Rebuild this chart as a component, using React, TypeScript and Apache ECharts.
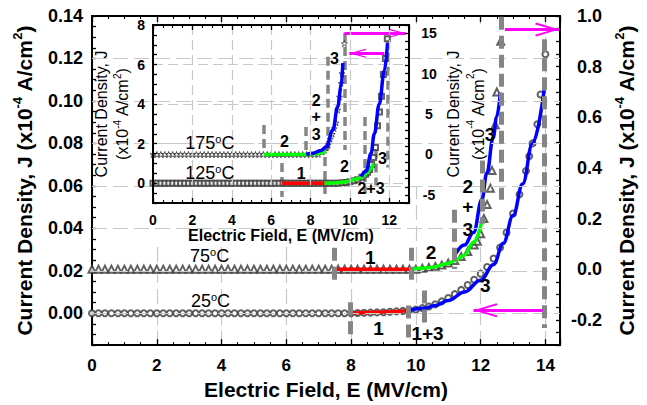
import React, { useEffect, useRef } from 'react';
import * as echarts from 'echarts';

const FONT = '"Liberation Sans", Arial, Helvetica, sans-serif';

// ---------------- Main plot data (E in MV/cm) ----------------
// 25 °C measured points (left axis, x10^-4 A/cm^2)
const meas25: number[][] = [
  [0, 0], [0.2, 0], [0.4, 0], [0.6, 0], [0.8, 0], [1, 0], [1.2, 0], [1.4, 0], [1.6, 0], [1.8, 0],
  [2, 0], [2.2, 0], [2.4, 0], [2.6, 0], [2.8, 0], [3, 0], [3.2, 0], [3.4, 0], [3.6, 0], [3.8, 0],
  [4, 0], [4.2, 0], [4.4, 0], [4.6, 0], [4.8, 0], [5, 0], [5.2, 0], [5.4, 0], [5.6, 0], [5.8, 0],
  [6, 0], [6.2, 0], [6.4, 0], [6.6, 0], [6.8, 0], [7, 0], [7.2, 0], [7.4, 0], [7.6, 0], [7.8, 0],
  [8, 0], [8.2, 0.0001], [8.4, 0.0002], [8.6, 0.0003], [8.8, 0.0004], [9, 0.0005], [9.2, 0.0007],
  [9.4, 0.0009], [9.6, 0.0011], [9.8, 0.0014], [10, 0.0018], [10.2, 0.0024], [10.4, 0.0032],
  [10.6, 0.0042], [10.8, 0.0056], [11, 0.0072], [11.2, 0.009], [11.4, 0.011], [11.6, 0.0133],
  [11.8, 0.0158], [12, 0.0186], [12.2, 0.0218], [12.4, 0.0258], [12.6, 0.031], [12.8, 0.038],
  [13, 0.047], [13.2, 0.056], [13.4, 0.067], [13.5, 0.074], [13.6, 0.08], [13.75, 0.089],
  [13.85, 0.103], [14, 0.122],
];
const fit25Red: number[][] = [[7.96, 0], [8.5, 0.0003], [9, 0.0006], [9.76, 0.0013]];
const fit25Blue: number[][] = [
  [9.76, 0.0013], [10.26, 0.0024], [10.6, 0.0037], [11, 0.006], [11.5, 0.01], [12, 0.0155],
  [12.4, 0.023], [12.7, 0.033], [13, 0.046], [13.3, 0.061], [13.6, 0.08], [13.96, 0.105],
];

// 75 °C measured points (right axis)
const meas75: number[][] = [
  [0, 0], [0.2, 0], [0.4, 0], [0.6, 0], [0.8, 0], [1, 0], [1.2, 0], [1.4, 0], [1.6, 0], [1.8, 0],
  [2, 0], [2.2, 0], [2.4, 0], [2.6, 0], [2.8, 0], [3, 0], [3.2, 0], [3.4, 0], [3.6, 0], [3.8, 0],
  [4, 0], [4.2, 0], [4.4, 0], [4.6, 0], [4.8, 0], [5, 0], [5.2, 0], [5.4, 0], [5.6, 0], [5.8, 0],
  [6, 0], [6.2, 0], [6.4, 0], [6.6, 0], [6.8, 0], [7, 0], [7.2, 0], [7.4, 0], [7.6, 0], [7.8, 0],
  [8, 0], [8.2, 0], [8.4, 0], [8.6, 0], [8.8, 0], [9, 0], [9.2, 0], [9.4, 0], [9.6, 0], [9.8, 0],
  [10, 0], [10.2, 0.004], [10.4, 0.007], [10.6, 0.011], [10.8, 0.016], [11, 0.024], [11.2, 0.034],
  [11.4, 0.05], [11.6, 0.07], [11.8, 0.095], [11.9, 0.11], [12, 0.14], [12.1, 0.2], [12.2, 0.255],
  [12.3, 0.32], [12.35, 0.39], [12.45, 0.57], [12.5, 0.7], [12.62, 0.9],
];
const fit75Red: number[][] = [[7.48, 0], [9.86, 0]];
const fit75Green: number[][] = [
  [9.86, 0], [10.3, 0.005], [10.57, 0.009], [10.97, 0.022], [11.23, 0.035], [11.48, 0.054],
  [11.78, 0.106], [12.04, 0.19],
];
const fit75Blue: number[][] = [
  [11.23, 0.061], [11.5, 0.095], [11.78, 0.145], [12.04, 0.276], [12.19, 0.379], [12.39, 0.521],
  [12.49, 0.6], [12.61, 0.697],
];

// ---------------- Inset data ----------------
// 125 °C (inset left axis)
const meas125: number[][] = [
  [0, 0], [0.2, 0], [0.4, 0], [0.6, 0], [0.8, 0], [1, 0], [1.2, 0], [1.4, 0], [1.6, 0], [1.8, 0],
  [2, 0], [2.2, 0], [2.4, 0], [2.6, 0], [2.8, 0], [3, 0], [3.2, 0], [3.4, 0], [3.6, 0], [3.8, 0],
  [4, 0], [4.2, 0], [4.4, 0], [4.6, 0], [4.8, 0], [5, 0], [5.2, 0], [5.4, 0], [5.6, 0], [5.8, 0],
  [6, 0], [6.2, 0], [6.4, 0], [6.6, 0], [6.8, 0], [7, 0], [7.2, 0], [7.4, 0], [7.6, 0], [7.8, 0],
  [8, 0], [8.2, 0], [8.4, 0], [8.6, 0], [8.8, 0], [9, 0], [9.2, 0], [9.4, 0], [9.6, 0.02],
  [9.8, 0.04], [10, 0.08], [10.2, 0.12], [10.4, 0.18], [10.6, 0.3], [10.8, 0.45], [10.9, 0.55],
  [11, 0.7], [11.1, 0.95], [11.2, 1.3], [11.3, 1.8], [11.4, 2.9], [11.5, 3.6], [11.6, 4.4],
  [11.7, 5.5], [11.8, 6.3], [11.9, 7.3],
];
const fit125Red: number[][] = [[6.55, 0], [8.71, 0]];
const fit125Green: number[][] = [
  [8.71, 0], [9.3, 0.02], [9.8, 0.08], [10.3, 0.2], [10.65, 0.33], [10.9, 0.55], [11.07, 0.75],
  [11.19, 1.0],
];
const fit125Blue: number[][] = [
  [10.57, 0.33], [10.82, 0.6], [11.07, 1.5], [11.24, 2.5], [11.49, 4.0], [11.75, 5.7], [11.91, 7.1],
];

// 175 °C (inset right axis)
const meas175: number[][] = [
  [0, 0], [0.2, 0], [0.4, 0], [0.6, 0], [0.8, 0], [1, 0], [1.2, 0], [1.4, 0], [1.6, 0], [1.8, 0],
  [2, 0], [2.2, 0], [2.4, 0], [2.6, 0], [2.8, 0], [3, 0], [3.2, 0], [3.4, 0], [3.6, 0], [3.8, 0],
  [4, 0], [4.2, 0], [4.4, 0], [4.6, 0], [4.8, 0], [5, 0], [5.2, 0], [5.4, 0], [5.6, 0], [5.8, 0],
  [6, 0], [6.2, 0], [6.4, 0], [6.6, 0], [6.8, 0], [7, 0], [7.2, 0], [7.4, 0], [7.6, 0], [7.8, 0],
  [8, 0], [8.2, 0], [8.4, 0], [8.6, 0.3], [8.7, 0.5], [8.8, 0.8], [8.9, 1.2], [9, 1.9], [9.1, 2.5],
  [9.2, 3.2], [9.3, 3.9], [9.38, 5.5], [9.47, 7.1], [9.55, 8.8], [9.6, 10], [9.72, 13.7],
];
const fit175Green: number[][] = [[5.64, 0], [7.78, 0], [8.4, 0.12], [8.79, 0.4]];
const fit175Blue: number[][] = [
  [7.78, 0], [8.12, 0.14], [8.5, 0.45], [8.8, 0.95], [9.13, 3.0], [9.38, 5.9], [9.55, 8.4], [9.64, 11.3],
];

// ---------------- Annotations (data coordinates) ----------------
// region separators: [E, J from, J to]
const mainSeparators: number[][] = [
  [7.96, 0.0052, -0.011], [9.76, 0.0037, -0.013], [10.26, 0.0107, -0.0056], [13.96, 0.129, -0.007],
  [7.48, 0.0308, 0.013], [9.86, 0.0308, 0.0139], [11.2, 0.0487, 0.0209], [12.04, 0.072, 0.0422],
  [12.63, 0.1397, 0.0534],
];
const insetSeparators: number[][] = [
  [6.55, 1.02, -0.7], [8.71, 1.32, -0.7], [10.73, 3.35, -0.5], [11.33, 1.7, -0.1], [11.91, 7.3, 0.8],
  [5.64, 2.94, 1.58], [7.78, 2.84, 1.58], [8.88, 6.4, 1.53], [9.72, 7.6, 1.68],
];
// region names
const mainRegionNames = ['1', '2', '2', '+', '3', '3', '1', '1+3', '3'];
const mainRegionAt: number[][] = [
  [8.59, 0.0261], [10.47, 0.0284], [11.6, 0.0598], [11.6, 0.0501], [11.6, 0.0394], [12.29, 0.0841],
  [8.85, -0.0071], [10.36, -0.0094], [12.14, 0.013],
];
const insetRegionNames = ['2', '1', '2', '+', '3', '3', '2', '2+3', '3'];
const insetRegionAt: number[][] = [
  [6.68, 2.1], [7.53, 0.5], [8.29, 4.2], [8.29, 3.36], [8.29, 2.44], [9.22, 6.31], [9.72, 0.83],
  [11.07, -0.26], [11.65, 1.26],
];
const mainTemps = ['75', '25'];
const mainTempAt: number[][] = [[3.63, 0.0269], [3.66, 0.0056]];
const insetTemps = ['175', '125'];
const insetTempAt: number[][] = [[2.89, 2.02], [2.89, 0.5]];
// arrows: [from, to(tip)]
const mainArrows: number[][][] = [
  [[13.91, 0.0014], [11.78, 0.0014]],
  [[12.75, 0.1336], [14.42, 0.1336]],
];
const insetArrows: number[][][] = [
  [[9.72, 7.58], [12.83, 7.58]],
  [[11.75, 6.57], [9.97, 6.57]],
];
const mainGridY = [0, 0.02, 0.04, 0.06, 0.08, 0.1, 0.12];
const insetGridY = [0, 2, 4, 6];

const isMult = (v: number, s: number) => Math.abs(v / s - Math.round(v / s)) < 1e-6;

const STAR = 'path://M5,0L6.2,3.6L10,3.6L7,5.9L8.1,9.5L5,7.3L1.9,9.5L3,5.9L0,3.6L3.8,3.6Z';
const CHEVRON = 'path://M7,0L7.03,0.03L7,0.06Z M7,24L14,47L12.2,48L7,30L1.8,48L0,47Z';

const supRich = (size: number, weight: string) => ({
  s: { fontSize: size, fontWeight: weight, fontFamily: FONT, color: '#000', verticalAlign: 'top', lineHeight: size + 1 },
});

export default function App() {
  const ref = useRef<HTMLDivElement>(null);

  useEffect(() => {
    const chart = echarts.init(ref.current!, null, { renderer: 'svg' });

    const axisLine = { show: true, onZero: false, lineStyle: { color: '#000', width: 2 } };
    const tick = (len: number) => ({ show: true, inside: true, length: len, lineStyle: { color: '#000', width: 1.3 } });
    const minor = (len: number) => ({ show: true, splitNumber: 4, length: len, lineStyle: { color: '#000', width: 1.1 } });
    const lbl = (size: number, extra: any) => ({ fontSize: size, fontWeight: 'bold', fontFamily: FONT, color: '#000', ...extra });

    const mainTitleStyle = {
      fontSize: 21, fontWeight: 'bold', fontFamily: FONT, color: '#000', lineHeight: 26,
      rich: supRich(13, 'bold'),
    };
    const insetYTitleStyle = (lh: number) => ({
      fontSize: 16, fontWeight: 'normal', fontFamily: FONT, color: '#000', lineHeight: lh,
      rich: supRich(10, 'normal'),
    });

    const fitLine = (data: number[][], color: string, xi: number, yi: number, z: number) => ({
      type: 'line', data, xAxisIndex: xi, yAxisIndex: yi, z, silent: true,
      showSymbol: false, symbol: 'none', smooth: 0.4, smoothMonotone: 'x',
      lineStyle: { color, width: 3.5 },
    });
    const sepLines = (list: number[][], xi: number, yi: number, z: number, w: number, dash: number[]) => ({
      type: 'line', data: [], xAxisIndex: xi, yAxisIndex: yi, z, silent: true,
      markLine: {
        silent: true, symbol: ['none', 'none'], label: { show: false }, emphasis: { disabled: true },
        lineStyle: { color: '#858585', width: w, type: dash, cap: 'butt' },
        data: list.map(([e, a, b]) => [{ coord: [e, a] }, { coord: [e, b] }]),
      },
    });
    const gridLines = (vals: number[], xi: number, yi: number, z: number, dash: number[]) => ({
      type: 'line', data: [], xAxisIndex: xi, yAxisIndex: yi, z, silent: true,
      markLine: {
        silent: true, symbol: ['none', 'none'], label: { show: false }, emphasis: { disabled: true },
        lineStyle: { color: '#c8c8c8', width: 1.2, type: dash },
        data: vals.map((v) => ({ yAxis: v })),
      },
    });
    const arrows = (list: number[][][], xi: number, yi: number, z: number, size: number[], w: number) => ({
      type: 'line', data: [], xAxisIndex: xi, yAxisIndex: yi, z, silent: true,
      markLine: {
        silent: true, symbol: ['none', CHEVRON], symbolSize: size, label: { show: false },
        emphasis: { disabled: true },
        lineStyle: { color: '#ff00ff', width: w, type: 'solid' },
        itemStyle: { color: '#ff00ff' },
        data: list.map(([a, b]) => [{ coord: a }, { coord: b }]),
      },
    });
    const textSeries = (names: string[], at: number[][], xi: number, yi: number, z: number, label: any) => ({
      type: 'scatter', xAxisIndex: xi, yAxisIndex: yi, z, silent: true,
      symbol: 'circle', symbolSize: 0.1, itemStyle: { color: '#000', opacity: 1 },
      data: names.map((n, i) => ({ name: n, value: at[i] })),
      label: { show: true, position: 'inside', color: '#000', opacity: 1, textBorderWidth: 0, fontFamily: FONT, ...label },
    });
    const tempLabel = {
      fontSize: 18, fontWeight: 'normal', lineHeight: 20,
      formatter: (p: any) => `{t|${p.name}}{s|o}{t|C}`,
      rich: {
        t: {
          fontSize: 18, fontWeight: 'normal', fontFamily: FONT, color: '#000', lineHeight: 20,
          verticalAlign: 'middle',
        },
        ...supRich(11, 'normal'),
      },
    };
    const markerStyle = { color: '#3a3a3a', borderColor: '#3a3a3a', borderWidth: 0.9 };

    const option: any = {
      animation: false,
      backgroundColor: '#fff',
      graphic: {
        elements: [
          { type: 'rect', z: 3, silent: true, shape: { x: 98, y: 24, width: 384, height: 162 }, style: { fill: '#fff' } },
          { type: 'rect', z: 3, silent: true, shape: { x: 150, y: 186, width: 250, height: 56 }, style: { fill: '#fff' } },
        ],
      },
      grid: [
        { left: 92, right: 79, top: 16, bottom: 54, show: true, borderColor: '#000', borderWidth: 2, backgroundColor: 'rgba(0,0,0,0)' },
        { left: 153, right: 238, top: 25, bottom: 202, show: true, borderColor: '#000', borderWidth: 2, backgroundColor: '#fff', z: 4 },
      ],
      xAxis: [
        {
          type: 'value', gridIndex: 0, position: 'bottom', min: 0, max: 14.45, interval: 2,
          axisLine, axisTick: tick(6), minorTick: minor(3),
          axisLabel: lbl(17, { margin: 12, showMaxLabel: false, formatter: (v: number) => (isMult(v, 2) ? String(v) : '') }),
          splitLine: { show: true, lineStyle: { color: '#c8c8c8', width: 1.2, type: [15, 6] } },
          name: 'Electric Field, E (MV/cm)', nameLocation: 'middle', nameGap: 31,
          nameTextStyle: { fontSize: 21, fontWeight: 'bold', fontFamily: FONT, color: '#000' },
        },
        {
          type: 'value', gridIndex: 0, position: 'top', min: 0, max: 14.45, interval: 2,
          axisLine, axisTick: tick(6), minorTick: minor(3), axisLabel: { show: false }, splitLine: { show: false },
        },
        {
          type: 'value', gridIndex: 1, position: 'bottom', min: 0, max: 13, interval: 2, z: 8,
          axisLine, axisTick: tick(5), minorTick: minor(3),
          axisLabel: lbl(14, { margin: 10, showMaxLabel: false, formatter: (v: number) => (isMult(v, 2) ? String(v) : '') }),
          splitLine: { show: true, lineStyle: { color: '#c8c8c8', width: 1.2, type: [10, 5] } },
          name: 'Electric Field, E (MV/cm)', nameLocation: 'middle', nameGap: 20,
          nameTextStyle: { fontSize: 16, fontWeight: 'bold', fontFamily: FONT, color: '#000' },
        },
        {
          type: 'value', gridIndex: 1, position: 'top', min: 0, max: 13, interval: 2, z: 8,
          axisLine, axisTick: tick(5), minorTick: minor(3), axisLabel: { show: false }, splitLine: { show: false },
        },
      ],
      yAxis: [
        {
          type: 'value', gridIndex: 0, position: 'left', min: -0.015, max: 0.14, interval: 0.005,
          axisLine, axisTick: tick(4),
          axisLabel: lbl(18, { margin: 9, formatter: (v: number) => (isMult(v, 0.02) ? v.toFixed(2) : '') }),
          splitLine: { show: false },
          name: 'Current Density, J (x10{s|-4} A/cm{s|2})', nameLocation: 'middle', nameGap: 51, nameRotate: 90,
          nameTextStyle: mainTitleStyle,
        },
        {
          type: 'value', gridIndex: 0, position: 'right', min: -0.3, max: 1.0, interval: 0.05,
          axisLine, axisTick: tick(4),
          axisLabel: lbl(18, { margin: 42, align: 'right', formatter: (v: number) => (isMult(v, 0.2) ? v.toFixed(1) : '') }),
          splitLine: { show: false },
          name: 'Current Density, J (x10{s|-4} A/cm{s|2})', nameLocation: 'middle', nameGap: 53, nameRotate: 90,
          nameTextStyle: mainTitleStyle,
        },
        {
          type: 'value', gridIndex: 1, position: 'left', min: -1, max: 8, interval: 0.5, z: 8,
          axisLine, axisTick: tick(4),
          axisLabel: lbl(14, { margin: 8, formatter: (v: number) => (isMult(v, 2) && v >= 0 ? String(v) : '') }),
          splitLine: { show: false },
          name: 'Current Density, J\n(x10{s|-4} A/cm{s|2})', nameLocation: 'middle', nameGap: 17, nameRotate: 90,
          nameTextStyle: insetYTitleStyle(21),
        },
        {
          type: 'value', gridIndex: 1, position: 'right', min: -6, max: 16, interval: 1, z: 8,
          axisLine, axisTick: tick(4),
          axisLabel: lbl(14, { margin: 20, align: 'center', formatter: (v: number) => (isMult(v, 5) ? String(v) : '') }),
          splitLine: { show: false },
          name: 'Current Density, J\n(x10{s|-4} A/cm{s|2})', nameLocation: 'middle', nameGap: 24, nameRotate: 90,
          nameTextStyle: insetYTitleStyle(25),
        },
      ],
      series: [
        // ----- main plot -----
        gridLines(mainGridY, 0, 0, 1, [15, 6]),
        {
          type: 'scatter', name: '25 °C', data: meas25, xAxisIndex: 0, yAxisIndex: 0, z: 2, silent: true,
          symbol: 'emptyCircle', symbolSize: 6, itemStyle: markerStyle,
        },
        {
          type: 'scatter', name: '75 °C', data: meas75, xAxisIndex: 0, yAxisIndex: 1, z: 2, silent: true,
          symbol: 'emptyTriangle', symbolSize: 7, itemStyle: markerStyle,
        },
        fitLine(fit25Red, '#ff0000', 0, 0, 3),
        fitLine(fit25Blue, '#0000ff', 0, 0, 3),
        fitLine(fit75Red, '#ff0000', 0, 1, 3),
        fitLine(fit75Green, '#00ff00', 0, 1, 3),
        fitLine(fit75Blue, '#0000ff', 0, 1, 3),
        sepLines(mainSeparators, 0, 0, 4, 5, [13, 6]),
        textSeries(mainRegionNames, mainRegionAt, 0, 0, 5, { fontSize: 19, fontWeight: 'bold', formatter: '{b}' }),
        textSeries(mainTemps, mainTempAt, 0, 0, 5, tempLabel),
        arrows(mainArrows, 0, 0, 5, [14, 48], 3),
        // ----- inset -----
        gridLines(insetGridY, 2, 2, 5, [10, 5]),
        {
          type: 'scatter', name: '125 °C', data: meas125, xAxisIndex: 2, yAxisIndex: 2, z: 6, silent: true,
          symbol: 'emptyRect', symbolSize: 5, itemStyle: markerStyle,
        },
        {
          type: 'scatter', name: '175 °C', data: meas175, xAxisIndex: 2, yAxisIndex: 3, z: 6, silent: true,
          symbol: STAR, symbolSize: 6,
          itemStyle: { color: 'rgba(255,255,255,0.5)', borderColor: '#222', borderWidth: 0.9 },
        },
        fitLine(fit125Red, '#ff0000', 2, 2, 7),
        fitLine(fit125Green, '#00ff00', 2, 2, 7),
        fitLine(fit125Blue, '#0000ff', 2, 2, 7),
        fitLine(fit175Green, '#00ff00', 2, 3, 7),
        fitLine(fit175Blue, '#0000ff', 2, 3, 7),
        sepLines(insetSeparators, 2, 2, 8, 3.5, [9, 5]),
        textSeries(insetRegionNames, insetRegionAt, 2, 2, 9, { fontSize: 16, fontWeight: 'bold', formatter: '{b}' }),
        textSeries(insetTemps, insetTempAt, 2, 2, 9, tempLabel),
        arrows(insetArrows, 2, 2, 9, [9, 34], 3),
      ],
    };

    chart.setOption(option);
    return () => chart.dispose();
  }, []);

  return (
    <div
      ref={ref}
      style={{ position: 'absolute', left: 0, top: 0, width: 647, height: 405, background: '#fff' }}
    />
  );
}
